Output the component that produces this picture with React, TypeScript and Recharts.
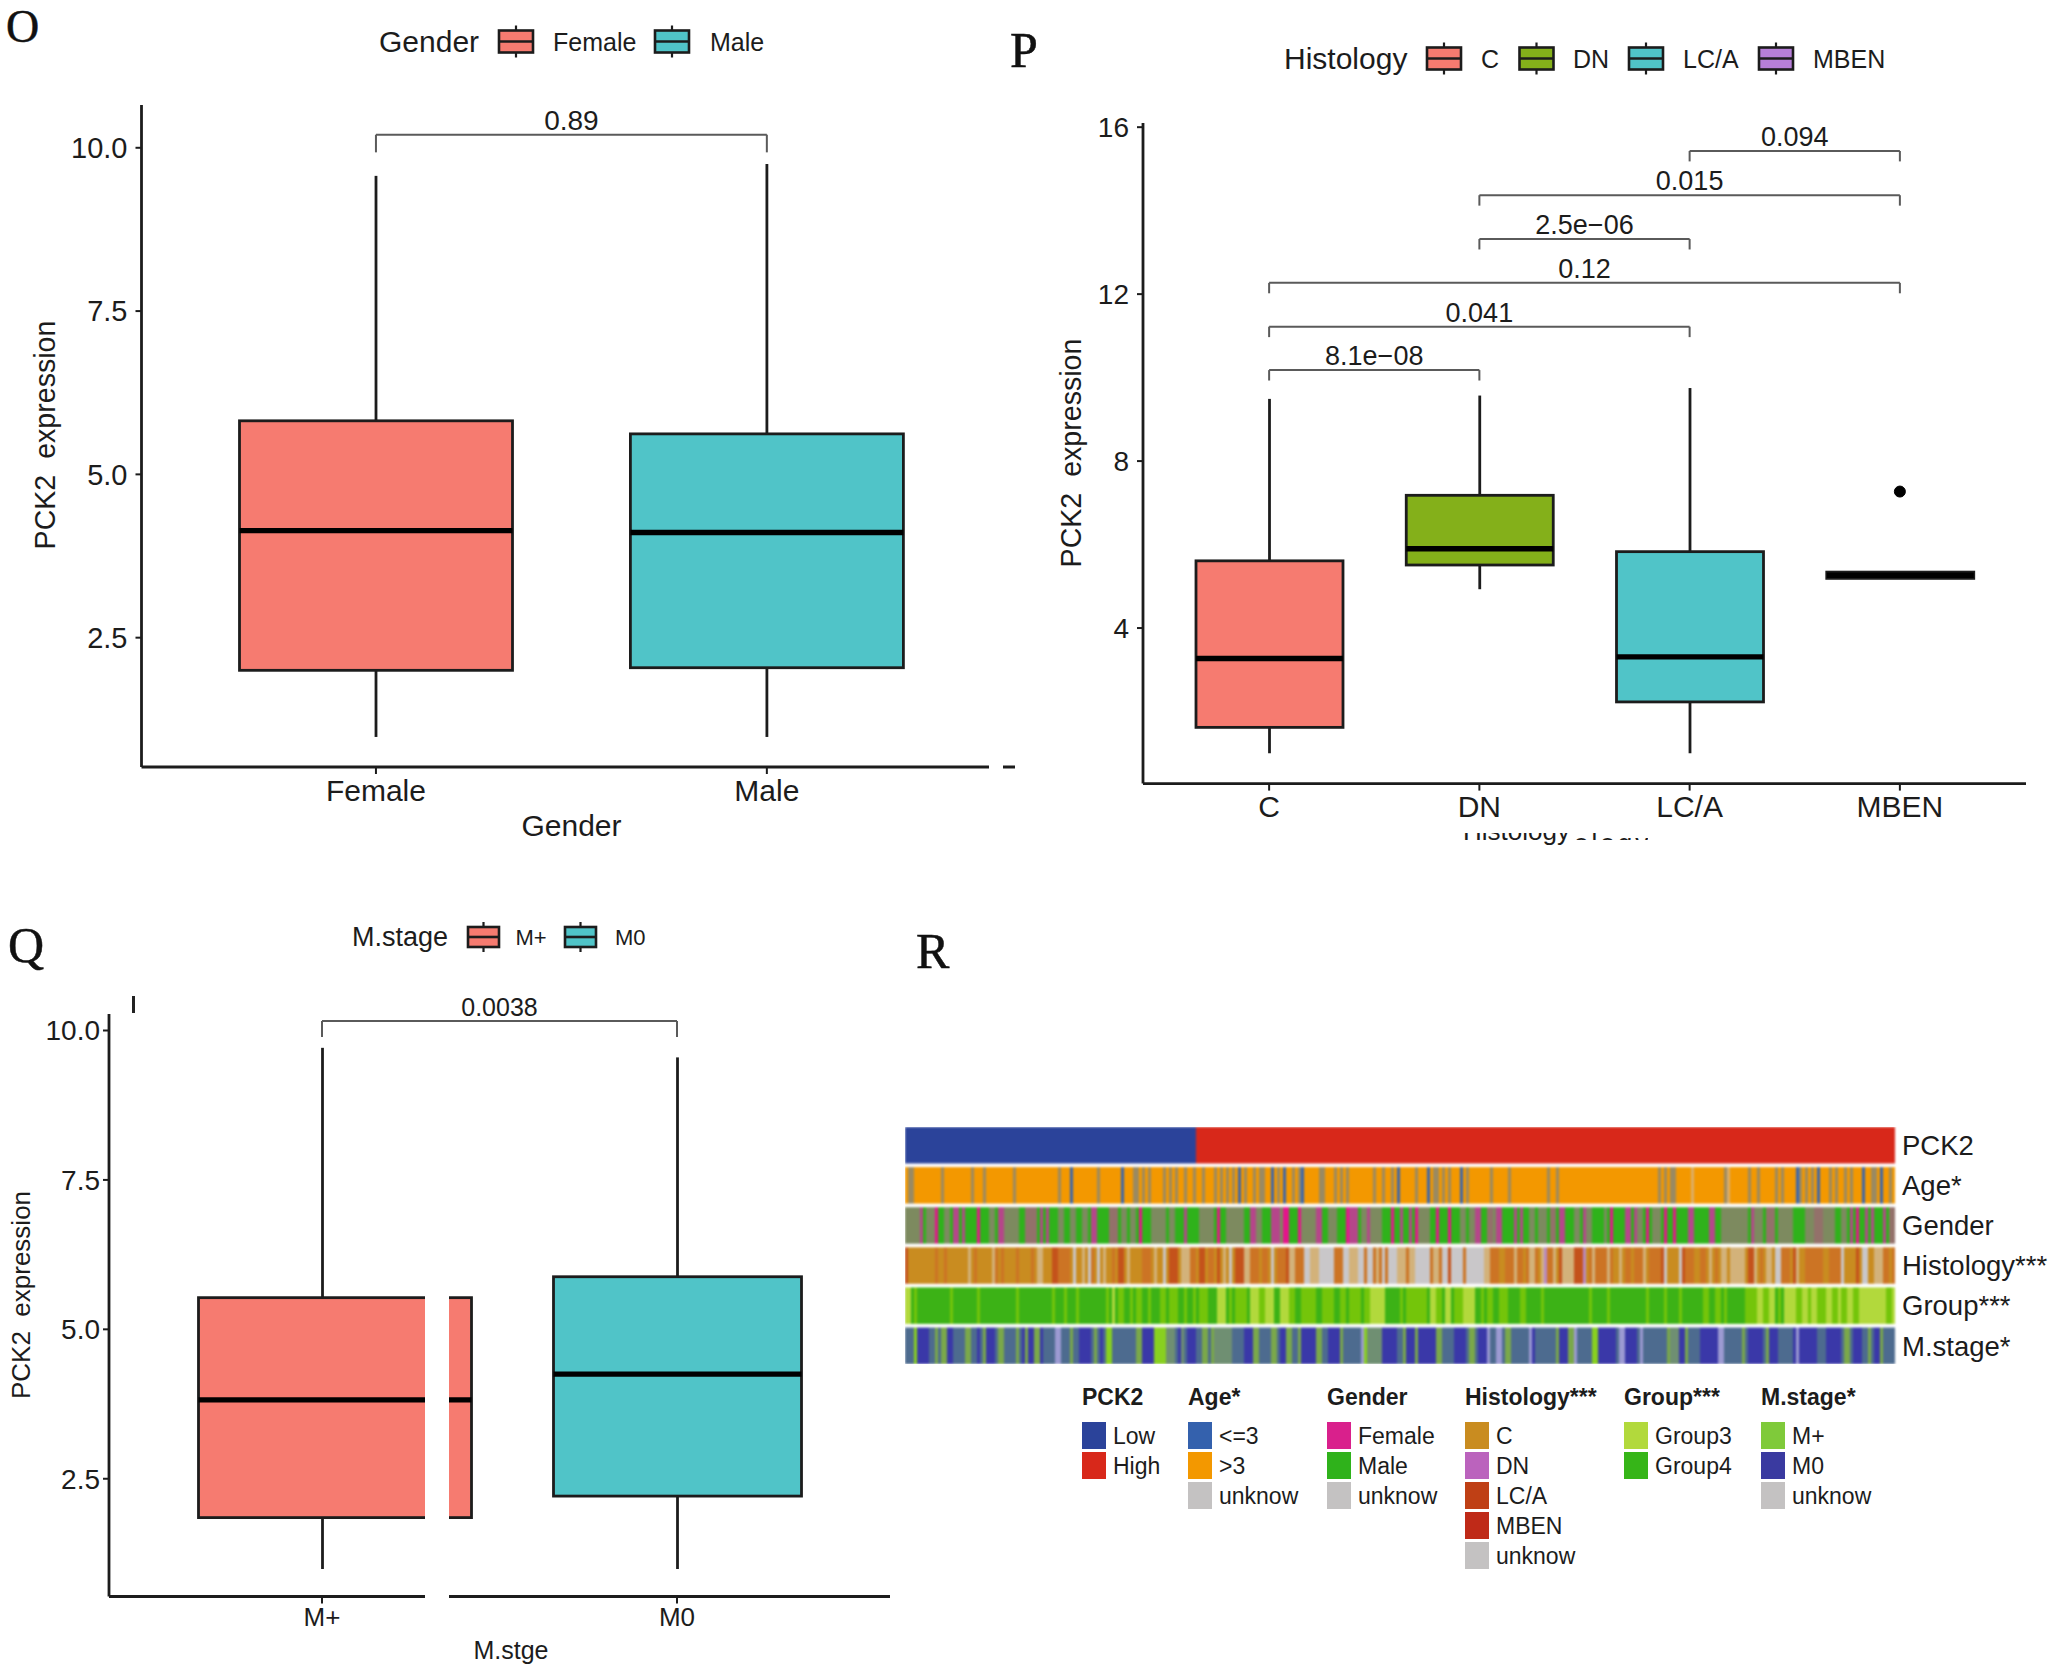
import React from 'react';
import { BarChart, Bar, Cell, ComposedChart, Line, ReferenceLine, XAxis, YAxis } from 'recharts';

const FONT = '"Liberation Sans", Arial, sans-serif';
const INK = '#1c1c1c';
const RED = '#f67b70';
const TEAL = '#50c4c8';
const OLIVE = '#84b01a';
const PURPLE = '#b77fd8';

/* ---------- panel O ---------- */
const genderCategories = ['Female', 'Male'];
const genderLow = [0.98, 0.98];
const genderQ1 = [2.0, 2.04];
const genderMedian = [4.14, 4.11];
const genderQ3 = [5.82, 5.62];
const genderHigh = [9.57, 9.75];
const genderBrackets: [string, string, number, string][] = [['Female', 'Male', 10.2, '0.89']];

/* ---------- panel P ---------- */
const histologyCategories = ['C', 'DN', 'LC/A', 'MBEN'];
const histologyLow = [1.0, 4.93, 1.0, 5.19];
const histologyQ1 = [1.62, 5.51, 2.23, 5.19];
const histologyMedian = [3.27, 5.9, 3.31, 5.265];
const histologyQ3 = [5.61, 7.18, 5.83, 5.34];
const histologyHigh = [9.49, 9.57, 9.75, 5.34];
const histologyOutliers = [null, null, null, 7.27];
const histologyBrackets: [string, string, number, string][] = [
  ['C', 'DN', 10.18, '8.1e\u221208'],
  ['C', 'LC/A', 11.22, '0.041'],
  ['C', 'MBEN', 12.27, '0.12'],
  ['DN', 'LC/A', 13.32, '2.5e\u221206'],
  ['DN', 'MBEN', 14.37, '0.015'],
  ['LC/A', 'MBEN', 15.43, '0.094'],
];

/* ---------- panel Q ---------- */
const stageCategories = ['M+', 'M0'];
const stageLow = [0.99, 0.99];
const stageQ1 = [1.85, 2.21];
const stageMedian = [3.82, 4.25];
const stageQ3 = [5.53, 5.88];
const stageHigh = [9.71, 9.55];
const stageBrackets: [string, string, number, string][] = [['M+', 'M0', 10.16, '0.0038']];

/* ---------- panel R: one letter per sample column ---------- */
const SAMPLE_COUNT = 330;
const lowExpressionSamples = 97;
const trackNames = ['PCK2', 'Age*', 'Gender', 'Histology***', 'Group***', 'M.stage*'];

const ageDim = [1, 2, 12, 22, 26, 36, 51, 64, 76, 77, 79, 81, 86, 88, 90, 93, 96, 99, 103, 105, 107, 109, 113, 116, 118, 119, 124, 129, 131, 138, 139, 143, 145, 147, 156, 159, 162, 170, 176, 177, 179, 181, 187, 195, 201, 214, 217, 251, 253, 255, 256, 273, 281, 284, 290, 292, 298, 300, 302, 308, 310, 313, 315, 322, 323, 328];
const ageYoung = [55, 72, 111, 122, 126, 132, 164, 174, 185, 297, 304, 319, 325];
const ageFaint = [262, 274];

type Run = [string, number, number];
const genderRuns: Run[] = [
  ['g', 0, 4], ['p', 5, 5], ['g', 7, 9], ['P', 10, 10], ['g', 13, 14], ['p', 16, 17], ['p', 19, 19], ['P', 24, 24], ['g', 28, 29], ['p', 31, 32], ['g', 33, 37], ['m', 40, 43], ['p', 45, 45], ['p', 47, 47], ['g', 51, 52], ['g', 55, 56], ['g', 59, 60], ['p', 62, 63], ['m', 68, 70], ['g', 72, 73], ['g', 75, 76], ['P', 78, 78], ['g', 82, 86], ['g', 88, 89], ['p', 93, 93], ['g', 98, 102], ['P', 104, 104], ['g', 107, 112],
  ['p', 115, 116], ['g', 117, 118], ['p', 122, 124], ['g', 125, 125], ['P', 126, 127], ['P', 131, 131], ['g', 132, 136], ['p', 137, 138], ['g', 141, 143], ['P', 147, 147], ['p', 148, 149], ['p', 150, 150], ['g', 152, 153], ['p', 154, 154], ['g', 155, 158], ['P', 162, 162], ['p', 165, 165], ['p', 168, 168], ['P', 170, 170], ['g', 171, 174], ['P', 177, 177], ['P', 181, 181], ['g', 185, 186], ['g', 188, 189], ['p', 190, 191], ['m', 194, 195], ['g', 196, 196], ['p', 197, 198], ['p', 203, 203], ['p', 205, 205], ['g', 208, 209], ['g', 211, 213], ['m', 215, 216], ['p', 218, 219],
  ['g', 223, 224], ['p', 226, 226], ['g', 227, 228], ['g', 233, 233], ['P', 235, 235], ['p', 240, 241], ['p', 243, 243], ['g', 244, 245], ['P', 247, 247], ['g', 249, 251], ['P', 253, 253], ['P', 256, 256], ['p', 261, 262], ['p', 268, 269], ['g', 272, 275], ['g', 276, 277], ['g', 278, 280], ['p', 282, 282], ['g', 283, 285], ['m', 287, 289], ['g', 291, 295], ['g', 300, 302], ['m', 303, 305], ['g', 306, 309], ['g', 312, 313], ['p', 315, 315], ['P', 317, 317], ['p', 320, 320], ['p', 322, 322], ['p', 326, 326], ['m', 328, 329],
];
const histologyRuns: Run[] = [
  ['R', 0, 0], ['r', 10, 10], ['r', 13, 13], ['w', 21, 21], ['r', 23, 23], ['w', 29, 29], ['r', 30, 30], ['r', 32, 32], ['r', 37, 37], ['r', 42, 42], ['w', 44, 45], ['R', 49, 50], ['r', 51, 52], ['r', 53, 54], ['W', 56, 56], ['w', 59, 59], ['W', 61, 61], ['r', 62, 62], ['W', 64, 64], ['w', 66, 66], ['r', 69, 69], ['R', 71, 72], ['w', 74, 74], ['r', 79, 81], ['w', 83, 83], ['W', 86, 86], ['R', 88, 90], ['w', 92, 94], ['r', 95, 96], ['R', 98, 99], ['r', 101, 102], ['R', 104, 104], ['w', 106, 106], ['W', 108, 108], ['R', 110, 112],
  ['w', 113, 114], ['r', 115, 117], ['r', 119, 120], ['W', 122, 122], ['r', 124, 126], ['R', 127, 127], ['w', 128, 129], ['r', 130, 132], ['W', 133, 134], ['w', 135, 137], ['W', 138, 142], ['r', 143, 145], ['W', 146, 147], ['w', 148, 150], ['W', 151, 152], ['r', 153, 153], ['W', 154, 155], ['r', 156, 156], ['w', 157, 157], ['r', 158, 158], ['W', 159, 159], ['r', 160, 160], ['W', 161, 163], ['w', 164, 166], ['r', 167, 167], ['w', 168, 169], ['W', 170, 174], ['r', 175, 175], ['w', 176, 177], ['r', 178, 178], ['W', 179, 180], ['R', 181, 181], ['W', 182, 185], ['r', 186, 186], ['W', 187, 192], ['w', 193, 194], ['r', 195, 197], ['r', 200, 202], ['w', 203, 203], ['r', 204, 205], ['r', 207, 207], ['w', 208, 209], ['r', 210, 210], ['w', 212, 212], ['D', 213, 213], ['r', 214, 215], ['w', 216, 216], ['R', 218, 218], ['w', 219, 222],
  ['R', 223, 225], ['D', 226, 226], ['r', 228, 228], ['w', 229, 229], ['r', 230, 233], ['w', 234, 234], ['r', 235, 235], ['w', 238, 238], ['r', 240, 241], ['r', 243, 245], ['w', 246, 246], ['r', 248, 251], ['R', 252, 252], ['W', 253, 253], ['W', 258, 258], ['R', 259, 259], ['r', 260, 261], ['r', 262, 262], ['r', 265, 266], ['w', 268, 268], ['r', 270, 270], ['w', 272, 273], ['w', 275, 279], ['R', 281, 282], ['w', 283, 283], ['r', 285, 285], ['w', 287, 288], ['W', 290, 291], ['r', 292, 294], ['R', 296, 296], ['w', 297, 297], ['r', 300, 302], ['r', 303, 305], ['r', 308, 309], ['r', 310, 311], ['W', 312, 312], ['R', 317, 317], ['W', 319, 320], ['w', 323, 325], ['r', 326, 327], ['r', 329, 329],
];
const groupRuns: Run[] = [
  ['T', 0, 1], ['m', 3, 3], ['m', 15, 15], ['m', 24, 24], ['m', 37, 37], ['m', 49, 49], ['m', 53, 53], ['m', 57, 57], ['m', 67, 67], ['T', 69, 69], ['m', 71, 72], ['m', 75, 75], ['m', 77, 78], ['m', 81, 81], ['m', 85, 86], ['m', 88, 90], ['m', 93, 93], ['m', 96, 96], ['m', 98, 100], ['T', 104, 106], ['m', 108, 108], ['m', 110, 113],
  ['T', 115, 117], ['m', 118, 119], ['T', 120, 122], ['T', 125, 127], ['m', 128, 129], ['m', 132, 136], ['m', 139, 142], ['m', 145, 146], ['m', 148, 151], ['m', 153, 154], ['T', 155, 159], ['m', 165, 165], ['m', 167, 173], ['T', 175, 176], ['m', 177, 178], ['T', 180, 181], ['m', 183, 185], ['T', 186, 189], ['m', 192, 192], ['m', 194, 195], ['m', 198, 200], ['m', 205, 206], ['m', 212, 212],
  ['m', 228, 228], ['m', 234, 234], ['m', 247, 247], ['m', 253, 253], ['m', 258, 258], ['m', 266, 267], ['m', 270, 271], ['m', 273, 273], ['m', 280, 283], ['T', 284, 285], ['m', 286, 287], ['T', 288, 289], ['m', 291, 291],
  ['T', 293, 329], ['m', 297, 298], ['m', 301, 301], ['m', 304, 306], ['m', 309, 310], ['m', 312, 313], ['m', 316, 317], ['m', 327, 328],
];
const stageRuns: Run[] = [
  ['L', 3, 3], ['B', 4, 7], ['K', 10, 10], ['K', 12, 12], ['K', 13, 13], ['B', 14, 15], ['K', 20, 21], ['B', 24, 24], ['K', 26, 26], ['B', 27, 29], ['K', 31, 32], ['K', 37, 37], ['B', 39, 39], ['K', 40, 40], ['B', 41, 42], ['K', 43, 44], ['B', 45, 45], ['W', 50, 51], ['K', 55, 55], ['B', 58, 61], ['K', 63, 63], ['B', 65, 65], ['L', 67, 68], ['K', 77, 78], ['B', 79, 82], ['L', 83, 86], ['l', 87, 89], ['B', 91, 91], ['l', 92, 92], ['B', 94, 96], ['K', 99, 100], ['K', 102, 102], ['l', 103, 108],
  ['B', 113, 115], ['K', 116, 117], ['K', 122, 123], ['B', 125, 126], ['K', 127, 128], ['K', 131, 131], ['B', 132, 136], ['K', 137, 138], ['B', 141, 144], ['K', 145, 145], ['W', 152, 152], ['L', 153, 153], ['l', 154, 158], ['B', 159, 163], ['K', 166, 166], ['B', 167, 169], ['K', 170, 170], ['B', 171, 176], ['K', 177, 178], ['B', 183, 186], ['K', 188, 189], ['B', 191, 193], ['W', 194, 194], ['W', 197, 198], ['K', 200, 201], ['W', 208, 208], ['B', 209, 209], ['K', 217, 217], ['B', 218, 220], ['K', 221, 221],
  ['K', 222, 222], ['W', 223, 223], ['L', 229, 230], ['B', 231, 236], ['W', 238, 239], ['B', 240, 243], ['W', 245, 245], ['K', 254, 254], ['l', 255, 257], ['B', 258, 259], ['K', 260, 260], ['B', 265, 270], ['W', 271, 272], ['K', 279, 279], ['B', 281, 285], ['K', 287, 287], ['B', 288, 290], ['B', 296, 296], ['W', 297, 297], ['B', 298, 303], ['B', 307, 311], ['K', 313, 313], ['K', 314, 314], ['B', 316, 318], ['K', 321, 321], ['B', 323, 324], ['K', 325, 325],
];

const pckPalette: Record<string, string> = { l: '#2b439a', h: '#d8281a' };
const agePalette: Record<string, string> = { o: '#f39800', d: '#9a8a62', y: '#3a66ac', f: '#dcae68' };
const genderPalette: Record<string, string> = { G: '#2fb21b', g: '#7d8a5f', p: '#b5468a', P: '#e5148b', m: '#93716a' };
const histologyPalette: Record<string, string> = { H: '#c98c20', r: '#cc7424', R: '#c4521b', w: '#d3b27a', W: '#c9c7c9', D: '#b88ac4' };
const groupPalette: Record<string, string> = { G: '#3cb216', m: '#74c50a', T: '#b2d93c' };
const stagePalette: Record<string, string> = { b: '#4d6b8f', B: '#3a38a8', L: '#88d020', K: '#7aa84a', l: '#6f8f72', W: '#9c9ad2' };

function paint(base: string, runs: Run[]): string[] {
  const out = Array(SAMPLE_COUNT).fill(base);
  runs.forEach(([c, a, b]) => { for (let i = a; i <= b; i++) out[i] = c; });
  return out;
}
const singles = (c: string, cols: number[]): Run[] => cols.map((i) => [c, i, i] as Run);

const pckTrack = paint('h', [['l', 0, lowExpressionSamples - 1]]).map((k) => pckPalette[k]);
const ageTrack = paint('o', [...singles('d', ageDim), ...singles('y', ageYoung), ...singles('f', ageFaint)]).map((k) => agePalette[k]);
const genderTrack = paint('G', genderRuns).map((k) => genderPalette[k]);
const histologyTrack = paint('H', histologyRuns).map((k) => histologyPalette[k]);
const groupTrack = paint('G', groupRuns).map((k) => groupPalette[k]);
const stageTrack = paint('b', stageRuns).map((k) => stagePalette[k]);

const heatRows = Array.from({ length: SAMPLE_COUNT }, (_, i) => ({
  col: i, pck: 10, gap1: 1, age: 10, gap2: 1, gender: 10, gap3: 1, hist: 10, gap4: 1, group: 10, gap5: 1, stage: 10,
}));

/* ---------- heatmap legend ---------- */
const legendGroups: { title: string; x: number; names: string[]; colors: string[] }[] = [
  { title: 'PCK2', x: 1082, names: ['Low', 'High'], colors: ['#2b439a', '#d8281a'] },
  { title: 'Age*', x: 1188, names: ['<=3', '>3', 'unknow'], colors: ['#3461ad', '#f39800', '#c4c2c2'] },
  { title: 'Gender', x: 1327, names: ['Female', 'Male', 'unknow'], colors: ['#d9208c', '#2fb21b', '#c4c2c2'] },
  { title: 'Histology***', x: 1465, names: ['C', 'DN', 'LC/A', 'MBEN', 'unknow'], colors: ['#c98c20', '#bb63bd', '#bf4015', '#bf2a18', '#c4c2c2'] },
  { title: 'Group***', x: 1624, names: ['Group3', 'Group4'], colors: ['#b2d93c', '#36b518'] },
  { title: 'M.stage*', x: 1761, names: ['M+', 'M0', 'unknow'], colors: ['#7fca3a', '#3a3aa0', '#c4c2c2'] },
];

type Bracket = [string, string, number, string];

function rows(cats: string[], low: number[], q1: number[], med: number[], q3: number[], high: number[], out?: (number | null)[]) {
  return cats.map((name, i) => ({ name, low: low[i], q1: q1[i], med: med[i], q3: q3[i], high: high[i], box: [q1[i], q3[i]], outlier: out ? out[i] : null }));
}

const makeBox = (colors: string[], sw: number, overhang: Record<string, number> = {}) => (props: any) => {
  const { x, y, width, height, payload, index } = props;
  const ppu = Math.abs(height) / (payload.q3 - payload.q1);
  const top = Math.min(y, y + height);
  const h = Math.abs(height);
  const cx = x + width / 2;
  const w = width + (overhang[payload.name] || 0);
  const yOf = (v: number) => top + (payload.q3 - v) * ppu;
  return (
    <g>
      <line x1={cx} x2={cx} y1={yOf(payload.high)} y2={top} stroke={INK} strokeWidth={sw} />
      <line x1={cx} x2={cx} y1={top + h} y2={yOf(payload.low)} stroke={INK} strokeWidth={sw} />
      <rect x={x} y={top} width={w} height={h} fill={colors[index]} stroke={INK} strokeWidth={sw} />
      <line x1={x} x2={x + w} y1={yOf(payload.med)} y2={yOf(payload.med)} stroke="#000" strokeWidth={sw * 1.9} />
    </g>
  );
};

function bracketLines(list: Bracket[], drop: number, fs: number) {
  const stroke = '#5a5a5a';
  return list.flatMap(([a, b, v, text], i) => [
    <ReferenceLine key={`h${i}`} ifOverflow="visible" stroke={stroke} strokeWidth={2}
      segment={[{ x: a, y: v }, { x: b, y: v }]}
      label={{ value: text, position: 'top', fontSize: fs, fill: INK, offset: 5 }} />,
    <ReferenceLine key={`l${i}`} ifOverflow="visible" stroke={stroke} strokeWidth={2} segment={[{ x: a, y: v }, { x: a, y: v - drop }]} />,
    <ReferenceLine key={`r${i}`} ifOverflow="visible" stroke={stroke} strokeWidth={2} segment={[{ x: b, y: v }, { x: b, y: v - drop }]} />,
  ]);
}

function BoxPanel(p: any) {
  return (
    <div style={{ position: 'absolute', left: p.left, top: p.top }}>
      <ComposedChart width={p.width} height={p.height} data={p.data} margin={p.margin}>
        <XAxis dataKey="name" type="category" scale="band" padding={p.padding} height={60} interval={0}
          tick={{ fontSize: p.xFont, fill: INK }} tickSize={7} tickMargin={p.xMargin}
          axisLine={{ stroke: INK, strokeWidth: 2.8 }} tickLine={{ stroke: INK, strokeWidth: 2 }} />
        <YAxis type="number" domain={p.domain} allowDataOverflow ticks={p.ticks} width={p.yWidth} interval={0}
          tickFormatter={p.fmt} tick={{ fontSize: p.yFont, fill: INK }} tickSize={6} tickMargin={p.yMargin}
          axisLine={{ stroke: INK, strokeWidth: 2.8 }} tickLine={{ stroke: INK, strokeWidth: 2 }} />
        <Bar dataKey="box" barSize={p.barSize} isAnimationActive={false} shape={makeBox(p.colors, 2.8, p.overhang)} />
        {p.hasOutlier ? (
          <Line dataKey="outlier" stroke="none" isAnimationActive={false} legendType="none"
            dot={{ r: 5.5, fill: '#000', stroke: '#000' }} activeDot={false} />
        ) : null}
        {bracketLines(p.brackets, p.drop, p.labelFont)}
      </ComposedChart>
    </div>
  );
}

function BoxLegend(l: { title: string; titleX: number; y: number; titleFont: number; labelFont: number; keyW: number; keyH: number; items: { name: string; color: string; keyX: number; textX: number }[] }) {
  return (
    <svg style={{ position: 'absolute', left: 0, top: 0 }} width={2055} height={1672}>
      <text x={l.titleX} y={l.y} dominantBaseline="central" fontSize={l.titleFont} fill={INK}>{l.title}</text>
      {l.items.map((it) => (
        <g key={it.name}>
          <line x1={it.keyX + l.keyW / 2} x2={it.keyX + l.keyW / 2} y1={l.y - l.keyH / 2 - 5} y2={l.y + l.keyH / 2 + 5} stroke={INK} strokeWidth={2.2} />
          <rect x={it.keyX} y={l.y - l.keyH / 2} width={l.keyW} height={l.keyH} fill={it.color} stroke={INK} strokeWidth={2.6} />
          <line x1={it.keyX} x2={it.keyX + l.keyW} y1={l.y} y2={l.y} stroke={INK} strokeWidth={2.6} />
          <text x={it.textX} y={l.y} dominantBaseline="central" fontSize={l.labelFont} fill={INK}>{it.name}</text>
        </g>
      ))}
    </svg>
  );
}

const trackTicks = [5, 16, 27, 38, 49, 60];
const trackLabelAt = (v: number) => trackNames[5 - trackTicks.indexOf(v)];

const heatSeries: [string, string[] | null][] = [
  ['stage', stageTrack], ['gap5', null], ['group', groupTrack], ['gap4', null], ['hist', histologyTrack], ['gap3', null],
  ['gender', genderTrack], ['gap2', null], ['age', ageTrack], ['gap1', null], ['pck', pckTrack],
];

function Heatmap() {
  return (
    <div className="heat" style={{ position: 'absolute', left: 905, top: 1126.5 }}>
      <style>{`.heat .recharts-bar { filter: blur(1.15px); }`}</style>
      <BarChart width={1150} height={237} data={heatRows} margin={{ top: 0, right: 0, bottom: 0, left: 0 }} barCategoryGap={0} barGap={0}>
        <XAxis dataKey="col" hide />
        <YAxis orientation="right" type="number" domain={[0, 65]} ticks={trackTicks} interval={0} width={160}
          tickFormatter={trackLabelAt} axisLine={false} tickLine={false} tickMargin={7} tickSize={0}
          tick={{ fontSize: 27.5, fill: INK }} />
        {heatSeries.map(([k, colors]) => (
          <Bar key={k} dataKey={k} stackId="tracks" isAnimationActive={false} fill={colors ? '#000' : 'none'}>
            {colors ? colors.map((c, i) => <Cell key={i} fill={c} />) : null}
          </Bar>
        ))}
      </BarChart>
    </div>
  );
}

function HeatLegend() {
  return (
    <svg style={{ position: 'absolute', left: 0, top: 0 }} width={2055} height={1672}>
      {legendGroups.map((g) => (
        <g key={g.title}>
          <text x={g.x} y={1397} dominantBaseline="central" fontSize={23} fontWeight={700} fill={INK}>{g.title}</text>
          {g.names.map((n, i) => (
            <g key={n}>
              <rect x={g.x} y={1422 + i * 30} width={24} height={27} fill={g.colors[i]} />
              <text x={g.x + 31} y={1435.5 + i * 30} dominantBaseline="central" fontSize={23} fill={INK}>{n}</text>
            </g>
          ))}
        </g>
      ))}
    </svg>
  );
}

function Clip({ x, y, w, h, ty, size, text, spacing = 0 }: { x: number; y: number; w: number; h: number; ty: number; size: number; text: string; spacing?: number }) {
  return (
    <div style={{ position: 'absolute', left: x, top: y, width: w, height: h, overflow: 'hidden' }}>
      <span style={{ position: 'absolute', left: 0, top: ty - y, fontSize: size, lineHeight: 1, color: INK, whiteSpace: 'nowrap', letterSpacing: spacing }}>{text}</span>
    </div>
  );
}

const letter = (t: string, x: number, y: number, fs = 50) => (
  <text x={x} y={y} fontFamily='"Liberation Serif", serif' fontSize={fs} fill="#111" stroke="#111" strokeWidth={0.5}>{t}</text>
);
const title = (t: string, x: number, y: number, fs: number) => (
  <text x={x} y={y} textAnchor="middle" dominantBaseline="central" fontSize={fs} fill={INK}>{t}</text>
);
const rotated = (x: number, y: number, fs: number) => (
  <text transform={`translate(${x},${y}) rotate(-90)`} textAnchor="middle" dominantBaseline="central" fontSize={fs} fill={INK} xmlSpace="preserve">PCK2  expression</text>
);

export default function App() {
  return (
    <div style={{ position: 'absolute', left: 0, top: 0, width: 2055, height: 1672, background: '#fff', overflow: 'hidden', fontFamily: FONT }}>
      <BoxPanel left={0} top={0} width={1030} height={860} margin={{ top: 105, right: 15, bottom: 33, left: 41.5 }}
        data={rows(genderCategories, genderLow, genderQ1, genderMedian, genderQ3, genderHigh)}
        padding={{ left: 39, right: 52.7 }} domain={[0.52, 10.655]} ticks={[2.5, 5, 7.5, 10]} fmt={(v: number) => v.toFixed(1)}
        yWidth={100} xFont={30} yFont={29} xMargin={6} yMargin={8} barSize={273} colors={[RED, TEAL]} brackets={genderBrackets} drop={0.27} labelFont={28} />

      <BoxPanel left={1000} top={0} width={1055} height={860} margin={{ top: 123, right: 29, bottom: 16.4, left: 43 }}
        data={rows(histologyCategories, histologyLow, histologyQ1, histologyMedian, histologyQ3, histologyHigh, histologyOutliers)}
        padding={{ left: 21, right: 21 }} domain={[0.273, 16.1]} ticks={[4, 8, 12, 16]} fmt={(v: number) => String(v)}
        yWidth={100} xFont={30} yFont={28} xMargin={5} yMargin={8} barSize={147} colors={[RED, OLIVE, TEAL, PURPLE]} hasOutlier
        brackets={histologyBrackets} drop={0.25} labelFont={27} />

      <BoxPanel left={0} top={900} width={900} height={772} margin={{ top: 114, right: 10, bottom: 15.5, left: 29 }}
        data={rows(stageCategories, stageLow, stageQ1, stageMedian, stageQ3, stageHigh)}
        padding={{ left: 35.5, right: 35.5 }} domain={[0.53, 10.276]} ticks={[2.5, 5, 7.5, 10]} fmt={(v: number) => v.toFixed(1)}
        yWidth={80} xFont={26} yFont={28} xMargin={4} yMargin={3} barSize={248} colors={[RED, TEAL]} overhang={{ 'M+': 25 }}
        brackets={stageBrackets} drop={0.27} labelFont={25} />

      <Heatmap />
      <HeatLegend />

      <BoxLegend title="Gender" titleX={379} y={41.5} titleFont={30} labelFont={25} keyW={34} keyH={22}
        items={[{ name: 'Female', color: RED, keyX: 499, textX: 553 }, { name: 'Male', color: TEAL, keyX: 655, textX: 710 }]} />
      <BoxLegend title="Histology" titleX={1284} y={58.5} titleFont={30} labelFont={25} keyW={34} keyH={22}
        items={[
          { name: 'C', color: RED, keyX: 1427, textX: 1481 },
          { name: 'DN', color: OLIVE, keyX: 1519.5, textX: 1573 },
          { name: 'LC/A', color: TEAL, keyX: 1629, textX: 1683 },
          { name: 'MBEN', color: PURPLE, keyX: 1759, textX: 1813 },
        ]} />
      <BoxLegend title="M.stage" titleX={352} y={937} titleFont={27} labelFont={22} keyW={31} keyH={20}
        items={[{ name: 'M+', color: RED, keyX: 468, textX: 515.5 }, { name: 'M0', color: TEAL, keyX: 565, textX: 615 }]} />

      {/* retouching present in the source figure */}
      <div style={{ position: 'absolute', left: 989, top: 755, width: 14, height: 22, background: '#fff' }} />
      <div style={{ position: 'absolute', left: 425, top: 1280, width: 24, height: 330, background: '#fff' }} />
      <div style={{ position: 'absolute', left: 132, top: 996, width: 3, height: 17, background: '#222' }} />
      <Clip x={1463} y={833} w={108} h={17} ty={818} size={26} text="Histology" />
      <Clip x={1574} y={832} w={74} h={8} ty={830} size={26} text="ology" spacing={3} />

      <svg style={{ position: 'absolute', left: 0, top: 0 }} width={2055} height={1672}>
        {letter('O', 6, 42, 46)}
        {letter('P', 1010, 67)}
        {letter('Q', 8, 962)}
        {letter('R', 916, 968)}
        {title('Gender', 571.5, 825, 30)}
        {title('M.stge', 511, 1650, 25)}
        {rotated(45, 435, 28.6)}
        {rotated(1071, 453, 28.6)}
        {rotated(21, 1295, 26)}
      </svg>
    </div>
  );
}
